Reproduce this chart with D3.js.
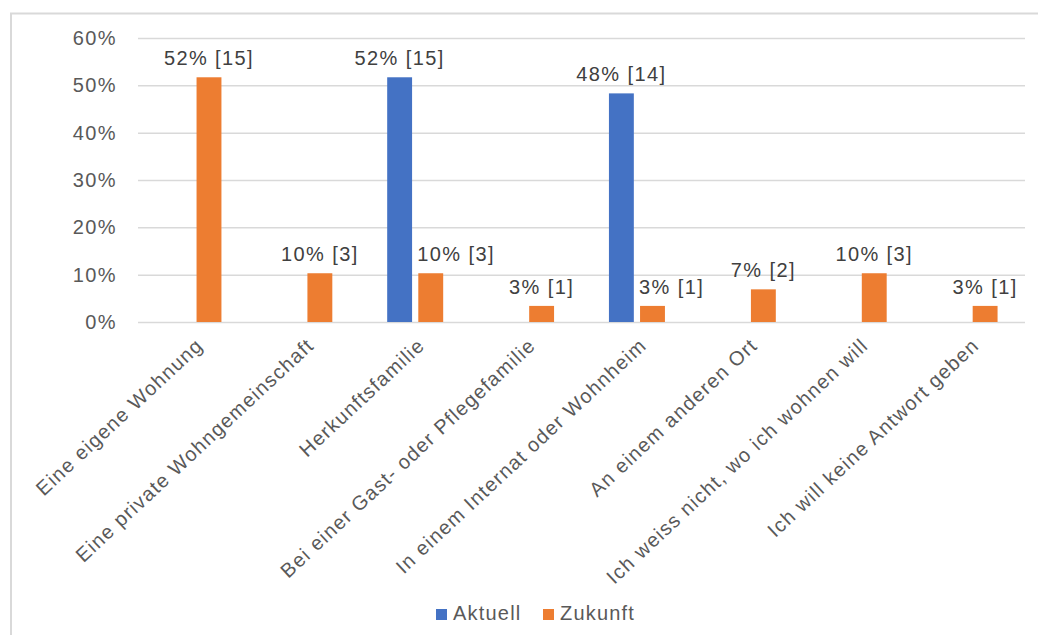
<!DOCTYPE html>
<html>
<head>
<meta charset="utf-8">
<script src="https://cdn.jsdelivr.net/npm/d3@7"></script>
<style>
  html, body { margin: 0; padding: 0; background: #ffffff; }
  svg { display: block; }
  text { font-family: "Liberation Sans", Arial, sans-serif; }
</style>
</head>
<body>
<svg id="chart" width="1038" height="635"></svg>
<script>
// Wohnsituation: aktuell vs. in Zukunft (Anteil in %, Anzahl in Klammern)
const categories = [
  "Eine eigene Wohnung",
  "Eine private Wohngemeinschaft",
  "Herkunftsfamilie",
  "Bei einer Gast- oder Pflegefamilie",
  "In einem Internat oder Wohnheim",
  "An einem anderen Ort",
  "Ich weiss nicht, wo ich wohnen will",
  "Ich will keine Antwort geben"
];
const seriesNames = ["Aktuell", "Zukunft"];
const aktuellPct = [0, 0, 51.7, 0, 48.3, 0, 0, 0];
const zukunftPct = [51.7, 10.3, 10.3, 3.4, 3.4, 6.9, 10.3, 3.4];
const aktuellCount = [0, 0, 15, 0, 14, 0, 0, 0];
const zukunftCount = [15, 3, 3, 1, 1, 2, 3, 1];
const yTicks = [0, 10, 20, 30, 40, 50, 60];
const colors = { Aktuell: "#4472C4", Zukunft: "#ED7D31" };

const svg = d3.select("#chart");

// outer frame
svg.append("rect")
  .attr("x", 11).attr("y", 13.5)
  .attr("width", 1060).attr("height", 660)
  .attr("fill", "none")
  .attr("stroke", "#d9d9d9")
  .attr("stroke-width", 2);

const plot = { left: 138, right: 1025, top: 38, bottom: 322 };

const y = d3.scaleLinear().domain([0, 60]).range([plot.bottom, plot.top]);
const x0 = d3.scaleBand().domain(categories).range([plot.left, plot.right]).padding(0);
const groupWidth = 56;
const x1 = d3.scaleBand().domain(seriesNames).range([0, groupWidth]).paddingInner(0.2).paddingOuter(0);

// gridlines and y labels via axis
const yAxis = d3.axisLeft(y)
  .tickValues(yTicks)
  .tickSize(-(plot.right - plot.left))
  .tickPadding(21)
  .tickFormat(d => d + "%");

const yg = svg.append("g")
  .attr("transform", `translate(${plot.left},0)`)
  .call(yAxis);
yg.select(".domain").remove();
yg.selectAll(".tick line")
  .attr("stroke", "#d9d9d9")
  .attr("stroke-width", 1.5);
yg.selectAll(".tick text")
  .attr("fill", "#595959")
  .style("font-size", "20px")
  .style("letter-spacing", "1.4px")
  .style("font-family", "'Liberation Sans', Arial, sans-serif");

// bar data
const rows = categories.map((c, i) => ({
  cat: c,
  values: [
    { key: "Aktuell", pct: aktuellPct[i], n: aktuellCount[i], both: aktuellPct[i] > 0 && zukunftPct[i] > 0 },
    { key: "Zukunft", pct: zukunftPct[i], n: zukunftCount[i], both: aktuellPct[i] > 0 && zukunftPct[i] > 0 }
  ]
}));

const groups = svg.append("g").selectAll("g.grp")
  .data(rows)
  .join("g")
  .attr("class", "grp")
  .attr("transform", d => `translate(${x0(d.cat) + x0.bandwidth() / 2 - groupWidth / 2},0)`);

groups.selectAll("rect")
  .data(d => d.values.filter(v => v.pct > 0))
  .join("rect")
  .attr("x", d => x1(d.key))
  .attr("y", d => y(d.pct))
  .attr("width", x1.bandwidth())
  .attr("height", d => y(0) - y(d.pct))
  .attr("fill", d => colors[d.key]);

// value labels; a short second bar next to a tall one gets its label
// pushed right so it clears the neighbouring bar
groups.selectAll("text.val")
  .data(d => d.values.filter(v => v.pct > 0))
  .join("text")
  .attr("class", "val")
  .attr("x", d => (d.both && d.key === "Zukunft") ? x1(d.key) - 1 : x1(d.key) + x1.bandwidth() / 2)
  .attr("y", d => y(d.pct) - 12)
  .attr("text-anchor", d => (d.both && d.key === "Zukunft") ? "start" : "middle")
  .attr("fill", "#404040")
  .style("font-size", "20px")
  .style("letter-spacing", "1.4px")
  .text(d => Math.round(d.pct) + "% [" + d.n + "]");

// category labels, rotated
svg.append("g").selectAll("text.cat")
  .data(categories)
  .join("text")
  .attr("class", "cat")
  .attr("transform", d => `translate(${x0(d) + x0.bandwidth() / 2 + 6},${plot.bottom + 20}) rotate(-43)`)
  .attr("text-anchor", "end")
  .attr("dy", "0.35em")
  .attr("fill", "#595959")
  .style("font-size", "20px")
  .style("letter-spacing", "1.2px")
  .text(d => d);

// legend
const legend = svg.append("g").attr("transform", "translate(436,609)");
const legendItems = [
  { key: "Aktuell", x: 0 },
  { key: "Zukunft", x: 107 }
];
legendItems.forEach(item => {
  legend.append("rect")
    .attr("x", item.x).attr("y", 0)
    .attr("width", 11).attr("height", 11)
    .attr("fill", colors[item.key]);
  legend.append("text")
    .attr("x", item.x + 17).attr("y", 10.5)
    .attr("fill", "#595959")
    .style("font-size", "20px")
    .style("letter-spacing", "1.2px")
    .text(item.key);
});
</script>
</body>
</html>
